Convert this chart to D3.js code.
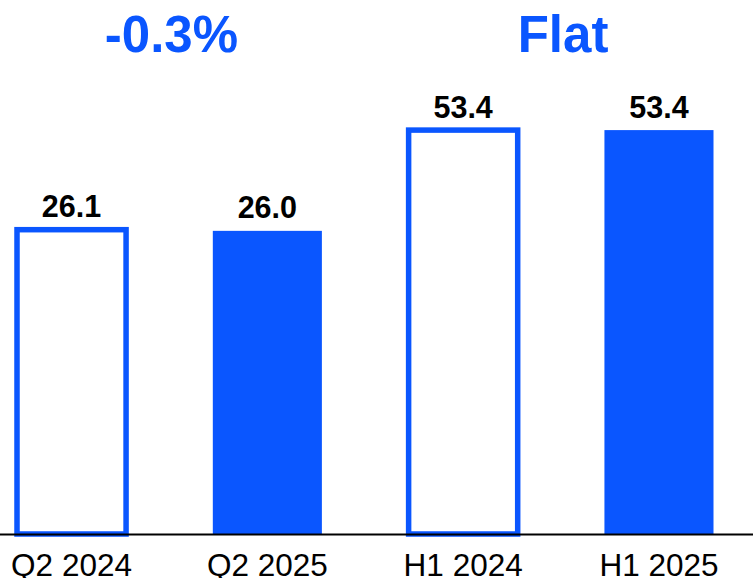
<!DOCTYPE html>
<html>
<head>
<meta charset="utf-8">
<script src="https://cdn.jsdelivr.net/npm/d3@7"></script>
<style>
  html, body { margin: 0; padding: 0; background: #fff; }
  svg { display: block; font-family: "Liberation Sans", Arial, sans-serif; }
</style>
</head>
<body>
<svg id="chart" width="753" height="578"></svg>
<script>
// Revenue comparison, quarter and half-year
const categories = ["Q2 2024", "Q2 2025", "H1 2024", "H1 2025"];
const values = [26.1, 26.0, 53.4, 53.4];
const periods = ["Q2", "Q2", "H1", "H1"];        // each period has its own scale
const isCurrent = [false, true, false, true];     // prior year drawn as outline
const changeLabels = ["-0.3%", "Flat"];
const changeGroups = [["Q2 2024", "Q2 2025"], ["H1 2024", "H1 2025"]];

const W = 753, H = 578;
const baseY = 534;
const blue = "#0a56ff";

const svg = d3.select("#chart");

const x = d3.scaleBand()
  .domain(categories)
  .range([17, 713.5])
  .paddingInner(0.443)
  .paddingOuter(0);

const yScales = {
  Q2: d3.scaleLinear().domain([0, 45.8]).range([baseY, 0]),
  H1: d3.scaleLinear().domain([0, 70.6]).range([baseY, 0])
};

const data = categories.map((c, i) => ({
  cat: c, value: values[i], period: periods[i], current: isCurrent[i]
}));

// bars
svg.append("g").selectAll("rect")
  .data(data)
  .join("rect")
  .attr("x", d => x(d.cat))
  .attr("y", d => yScales[d.period](d.value))
  .attr("width", x.bandwidth())
  .attr("height", d => baseY - yScales[d.period](d.value))
  .attr("fill", d => d.current ? blue : "#fff")
  .attr("stroke", d => d.current ? "none" : blue)
  .attr("stroke-width", 5.5);

// value labels
svg.append("g").selectAll("text")
  .data(data)
  .join("text")
  .attr("x", d => x(d.cat) + x.bandwidth() / 2)
  .attr("y", d => yScales[d.period](d.value) - 12.5)
  .attr("text-anchor", "middle")
  .attr("font-size", 30.5)
  .attr("font-weight", "bold")
  .attr("fill", "#000")
  .text(d => d.value.toFixed(1));

// baseline
svg.append("line")
  .attr("x1", 0).attr("x2", W)
  .attr("y1", baseY + 0.5).attr("y2", baseY + 0.5)
  .attr("stroke", "#000")
  .attr("stroke-width", 2);

// category axis
const xAxis = d3.axisBottom(x).tickSize(0).tickPadding(0);
const axisG = svg.append("g")
  .attr("transform", `translate(0,${baseY})`)
  .call(xAxis);
axisG.select(".domain").remove();
axisG.selectAll("text")
  .attr("y", 41.5)
  .attr("dy", 0)
  .attr("font-size", 31.5)
  .attr("font-family", "Liberation Sans, Arial, sans-serif")
  .attr("fill", "#000");

// change annotations above each pair
svg.append("g").selectAll("text")
  .data(changeLabels)
  .join("text")
  .attr("x", (d, i) => {
    const g = changeGroups[i];
    return (x(g[0]) + x(g[1]) + x.bandwidth()) / 2 + 2;
  })
  .attr("y", 52)
  .attr("text-anchor", "middle")
  .attr("font-size", 51)
  .attr("font-weight", "bold")
  .attr("fill", blue)
  .text(d => d);
</script>
</body>
</html>
